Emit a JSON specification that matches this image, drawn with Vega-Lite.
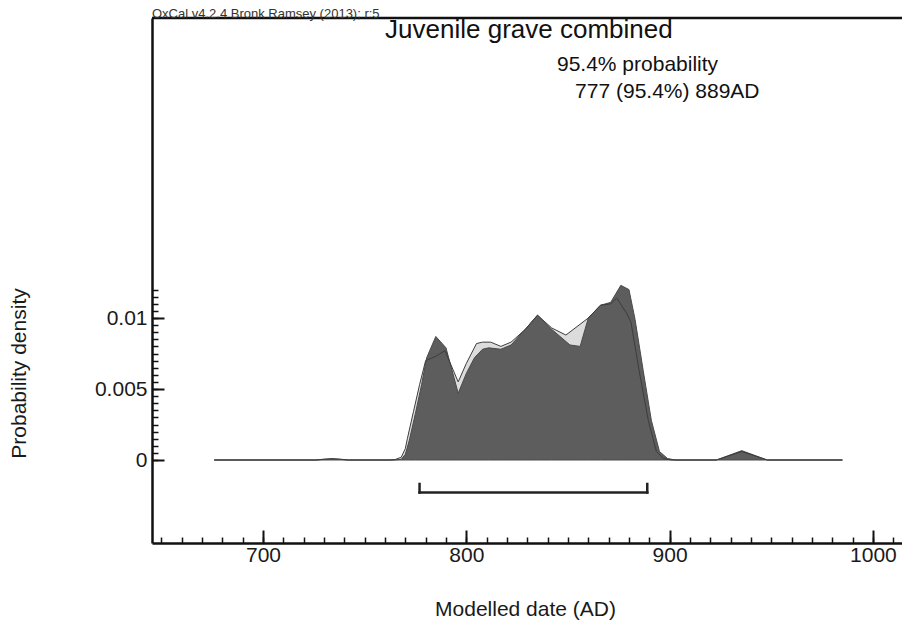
{
  "$schema": "https://vega.github.io/schema/vega-lite/v6.json",
  "width": 750,
  "height": 525,
  "autosize": {"type": "none"},
  "padding": {"left": 152, "top": 18, "right": 0, "bottom": 80},
  "background": "white",
  "config": {
    "view": {"stroke": null},
    "font": "Liberation Sans",
    "axis": {"grid": false, "domainColor": "#111111", "tickColor": "#111111", "labelColor": "#1a1a1a", "titleColor": "#1a1a1a", "labelFont": "Liberation Sans", "titleFont": "Liberation Sans", "titleFontWeight": "normal"}
  },
  "title": {"text": "OxCal v4.2.4 Bronk Ramsey (2013); r:5", "anchor": "start", "frame": "group", "fontSize": 13, "fontWeight": "normal", "color": "#333333", "baseline": "alphabetic", "offset": -14},
  "datasets": {
    "prior": [
      {"date": 676, "density": 0}, {"date": 726, "density": 0}, {"date": 730, "density": 0.00006}, {"date": 734, "density": 0.0001}, {"date": 738, "density": 0.00006}, {"date": 742, "density": 0},
      {"date": 762, "density": 0}, {"date": 765, "density": 0.00003}, {"date": 768, "density": 0.0002}, {"date": 770, "density": 0.0008}, {"date": 771, "density": 0.0015}, {"date": 774, "density": 0.0034},
      {"date": 777, "density": 0.0053}, {"date": 780, "density": 0.007}, {"date": 785, "density": 0.0073}, {"date": 789.5, "density": 0.0077}, {"date": 796, "density": 0.0055}, {"date": 800, "density": 0.0068},
      {"date": 805, "density": 0.0082}, {"date": 808, "density": 0.0083}, {"date": 812, "density": 0.0083}, {"date": 817, "density": 0.008}, {"date": 822, "density": 0.0083}, {"date": 829, "density": 0.0092},
      {"date": 835, "density": 0.0102}, {"date": 842, "density": 0.0093}, {"date": 849, "density": 0.0088}, {"date": 860, "density": 0.01}, {"date": 866, "density": 0.0109}, {"date": 871, "density": 0.011},
      {"date": 874, "density": 0.0114}, {"date": 879, "density": 0.0103}, {"date": 881, "density": 0.0097}, {"date": 885, "density": 0.0063}, {"date": 889.5, "density": 0.0028}, {"date": 893.5, "density": 0.0006},
      {"date": 897, "density": 0.0001}, {"date": 901, "density": 0}, {"date": 923, "density": 0}, {"date": 935.5, "density": 0.0006}, {"date": 948, "density": 0}, {"date": 985, "density": 0}
    ],
    "posterior": [
      {"date": 676, "density": 0}, {"date": 726, "density": 0}, {"date": 730, "density": 0.00004}, {"date": 734, "density": 0.00007}, {"date": 738, "density": 0.00004}, {"date": 742, "density": 0},
      {"date": 764, "density": 0}, {"date": 768, "density": 0.00005}, {"date": 770, "density": 0.0004}, {"date": 772, "density": 0.0014}, {"date": 775, "density": 0.0033}, {"date": 778, "density": 0.0053},
      {"date": 780.5, "density": 0.0072}, {"date": 785, "density": 0.0087}, {"date": 790, "density": 0.0079}, {"date": 796, "density": 0.0047}, {"date": 800, "density": 0.0061}, {"date": 804, "density": 0.0072},
      {"date": 808, "density": 0.0078}, {"date": 811, "density": 0.0079}, {"date": 817, "density": 0.0078}, {"date": 822, "density": 0.0081}, {"date": 829, "density": 0.0092}, {"date": 835, "density": 0.0102},
      {"date": 842, "density": 0.0092}, {"date": 851, "density": 0.0081}, {"date": 856, "density": 0.008}, {"date": 860, "density": 0.01}, {"date": 866, "density": 0.0109}, {"date": 871, "density": 0.0111},
      {"date": 876, "density": 0.0123}, {"date": 880, "density": 0.012}, {"date": 883, "density": 0.0099}, {"date": 887, "density": 0.0063}, {"date": 891, "density": 0.0028}, {"date": 895, "density": 0.0006},
      {"date": 899, "density": 0.0001}, {"date": 903, "density": 0}, {"date": 923, "density": 0}, {"date": 935.5, "density": 0.00066}, {"date": 948, "density": 0}, {"date": 985, "density": 0}
    ],
    "range": [{"from": 777, "to": 889}],
    "heading": [{"label": "Juvenile grave combined"}],
    "line1": [{"label": "95.4% probability"}],
    "line2": [{"label": "777 (95.4%) 889AD"}]
  },
  "resolve": {"axis": {"x": "independent", "y": "independent"}},
  "layer": [
    {
      "data": {"name": "prior"},
      "mark": {"type": "area", "color": "#dcdcdc", "opacity": 1},
      "encoding": {
        "x": {"field": "date", "type": "quantitative", "scale": {"domain": [645.4, 1014.3], "nice": false, "zero": false},
          "axis": {"orient": "bottom", "values": [700, 800, 900, 1000], "format": "d", "tickSize": -13, "tickWidth": 2, "domainWidth": 2.5, "labelFontSize": 21, "labelPadding": 14, "labelFlush": false,
            "title": "Modelled date (AD)", "titleFontSize": 21, "titleX": 373, "titleY": 72, "titleBaseline": "alphabetic", "titleAlign": "center"}},
        "y": {"field": "density", "type": "quantitative", "scale": {"domain": [-0.005845, 0.031127], "nice": false, "zero": false},
          "axis": {"orient": "left", "values": [0, 0.005, 0.01], "format": "~g", "tickSize": -12, "tickWidth": 2, "domainWidth": 2.5, "labelFontSize": 21, "labelPadding": 17, "labelFlush": false,
            "title": "Probability density", "titleFontSize": 21, "titleAngle": -90, "titleX": -127, "titleY": 355, "titleBaseline": "alphabetic", "titleAlign": "center"}},
        "y2": {"datum": 0}
      }
    },
    {
      "data": {"name": "posterior"},
      "mark": {"type": "area", "color": "#5d5d5d", "opacity": 1, "stroke": "#4a4a4a", "strokeWidth": 1},
      "encoding": {
        "x": {"field": "date", "type": "quantitative",
          "axis": {"orient": "bottom", "values": [650, 660, 670, 680, 690, 700, 710, 720, 730, 740, 750, 760, 770, 780, 790, 800, 810, 820, 830, 840, 850, 860, 870, 880, 890, 900, 910, 920, 930, 940, 950, 960, 970, 980, 990, 1000, 1010],
            "tickSize": -6, "tickWidth": 1.5, "labels": false, "domain": false, "title": null}},
        "y": {"field": "density", "type": "quantitative",
          "axis": {"orient": "left", "values": [0, 0.0005, 0.001, 0.0015, 0.002, 0.0025, 0.003, 0.0035, 0.004, 0.0045, 0.005, 0.0055, 0.006, 0.0065, 0.007, 0.0075, 0.008, 0.0085, 0.009, 0.0095, 0.01, 0.0105, 0.011, 0.0115, 0.012],
            "tickSize": -6, "tickWidth": 1.5, "labels": false, "domain": false, "title": null}},
        "y2": {"datum": 0}
      }
    },
    {
      "data": {"name": "prior"},
      "mark": {"type": "line", "color": "#3c3c3c", "strokeWidth": 1},
      "encoding": {
        "x": {"field": "date", "type": "quantitative", "axis": null},
        "y": {"field": "density", "type": "quantitative", "axis": null}
      }
    },
    {
      "data": {"name": "range"},
      "mark": {"type": "rule", "color": "#111111", "strokeWidth": 2.5},
      "encoding": {
        "y": {"datum": 0.031127, "axis": null}
      }
    },
    {
      "data": {"name": "range"},
      "mark": {"type": "rule", "color": "#222222", "strokeWidth": 2.5, "strokeCap": "square"},
      "encoding": {
        "x": {"field": "from", "type": "quantitative", "axis": null},
        "x2": {"field": "to"},
        "y": {"datum": -0.00229, "axis": null}
      }
    },
    {
      "data": {"name": "range"},
      "mark": {"type": "rule", "color": "#222222", "strokeWidth": 2.5, "strokeCap": "square"},
      "encoding": {
        "x": {"field": "from", "type": "quantitative", "axis": null},
        "y": {"datum": -0.00229, "axis": null},
        "y2": {"datum": -0.00169}
      }
    },
    {
      "data": {"name": "range"},
      "mark": {"type": "rule", "color": "#222222", "strokeWidth": 2.5, "strokeCap": "square"},
      "encoding": {
        "x": {"field": "to", "type": "quantitative", "axis": null},
        "y": {"datum": -0.00229, "axis": null},
        "y2": {"datum": -0.00169}
      }
    },
    {
      "data": {"name": "heading"},
      "mark": {"type": "text", "fontSize": 26, "align": "center", "baseline": "alphabetic", "color": "#111111", "font": "Liberation Sans"},
      "encoding": {
        "text": {"field": "label"},
        "x": {"datum": 830.8, "axis": null},
        "y": {"datum": 0.02972, "axis": null}
      }
    },
    {
      "data": {"name": "line1"},
      "mark": {"type": "text", "fontSize": 21, "align": "left", "baseline": "alphabetic", "color": "#111111", "font": "Liberation Sans"},
      "encoding": {
        "text": {"field": "label"},
        "x": {"datum": 844.6, "axis": null},
        "y": {"datum": 0.02736, "axis": null}
      }
    },
    {
      "data": {"name": "line2"},
      "mark": {"type": "text", "fontSize": 21, "align": "left", "baseline": "alphabetic", "color": "#111111", "font": "Liberation Sans"},
      "encoding": {
        "text": {"field": "label"},
        "x": {"datum": 853.5, "axis": null},
        "y": {"datum": 0.02549, "axis": null}
      }
    }
  ]
}
